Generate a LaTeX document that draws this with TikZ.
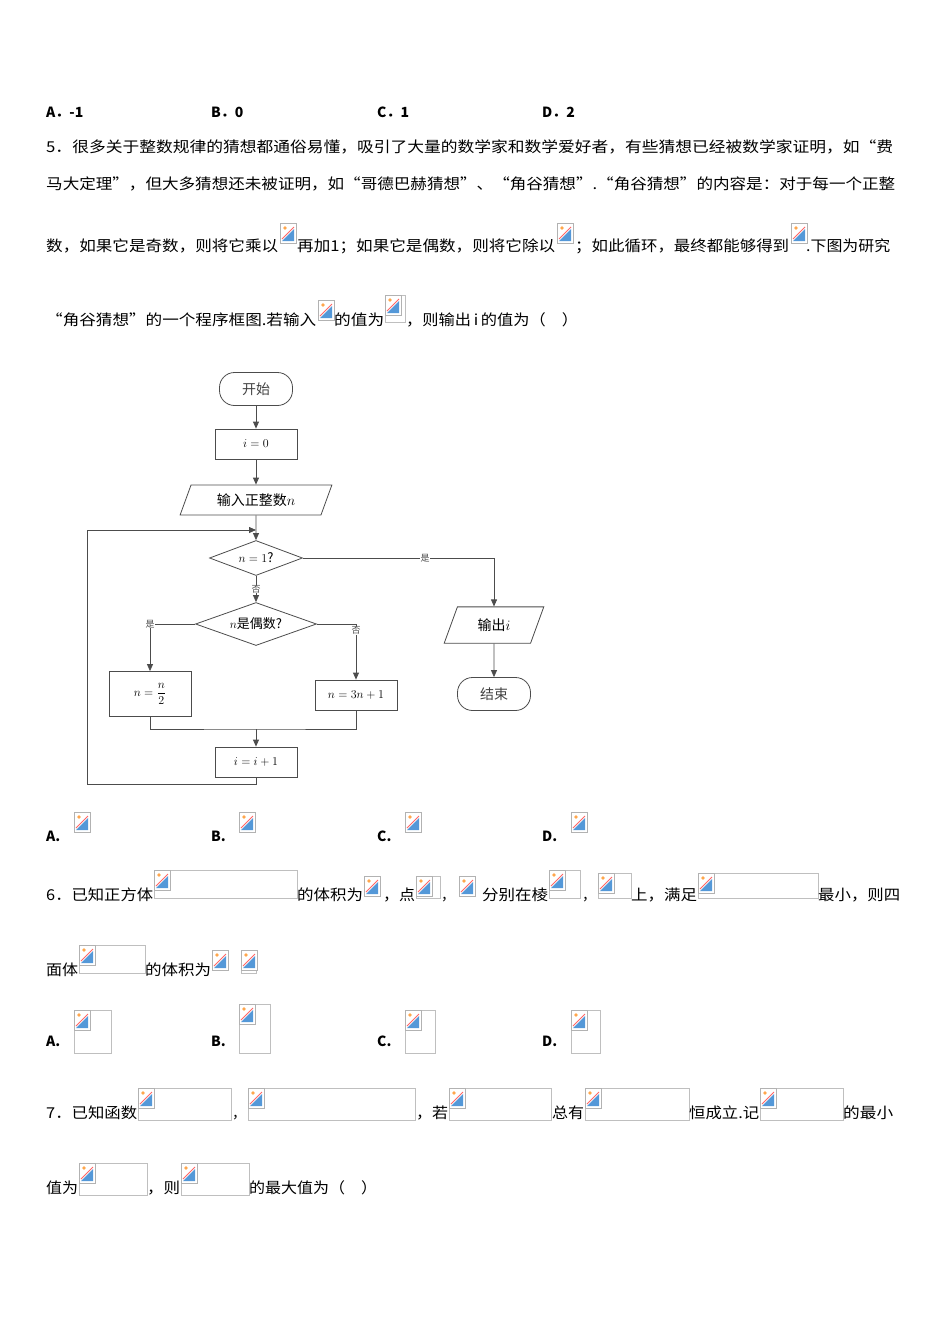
\documentclass[tikz,border=0pt]{standalone}
\usepackage{fontspec}
\setmainfont{Noto Sans CJK SC}
\newfontfamily\fc{Noto Sans CJK SC}
\usetikzlibrary{shapes.geometric,arrows.meta}
\newcommand\ico[2]{%
 \fill[white] (#1,#2) rectangle ++(16,20);
 \draw[gray!60,line width=0.6pt] (#1,#2) rectangle ++(16,20);
 \fill[cyan!60!blue!70] (#1+2,#2+18)--(#1+14,#2+6)--(#1+14,#2+18)--cycle;
 \draw[red!60,line width=1pt] (#1+2,#2+16)--(#1+14,#2+4);
 \fill[orange!70] (#1+5,#2+5) circle (1.8);}
\newcommand\bx[4]{\draw[gray!50,line width=0.6pt] (#1,#2) rectangle (#3,#4);\ico{#1}{#2}}
\newcommand\sg[4]{\node[anchor=base west,inner sep=0pt] at (#1,#2) {\resizebox{#3pt}{\height}{\fontsize{15pt}{17pt}\selectfont #4}};}
\newcommand\tx[3]{\node[anchor=base west,inner sep=0pt] at (#1,#2) {\fontsize{14pt}{16pt}\selectfont #3};}
\begin{document}
\begin{tikzpicture}[x=1pt,y=-1pt,
 box/.style={draw=black!70,line width=0.8pt,minimum width=82pt,minimum height=30pt,font=\fontsize{13pt}{15pt}\selectfont},
 term/.style={draw=black!70,line width=0.8pt,rounded corners=15pt,minimum width=73pt,minimum height=33pt,font=\fc\fontsize{14pt}{16pt}\selectfont\color{black!75}},
 dec/.style={draw=black!70,line width=0.8pt,diamond,inner sep=0pt,font=\fontsize{13pt}{15pt}\selectfont},
 io/.style={draw=black!70,line width=0.8pt,trapezium,trapezium left angle=70,trapezium right angle=110,minimum height=30pt,font=\fontsize{14pt}{16pt}\selectfont},
 ln/.style={black!70,line width=0.8pt},
 ar/.style={ln,-{Triangle[length=7pt,width=6pt]}},
 lb/.style={font=\fc\fontsize{9pt}{10pt}\selectfont,fill=white,inner sep=0.5pt,text=black!70}]
\useasboundingbox (0,0) rectangle (950,1344);
% line A-D
\tx{46}{117}{\bfseries A．-1}\tx{211}{117}{\bfseries B．0}\tx{377}{117}{\bfseries C．1}\tx{542}{117}{\bfseries D．2}
\sg{46}{152}{847}{5．很多关于整数规律的猜想都通俗易懂，吸引了大量的数学家和数学爱好者，有些猜想已经被数学家证明，如“费}
\sg{46}{189}{849}{马大定理”，但大多猜想还未被证明，如“哥德巴赫猜想”、“角谷猜想”.“角谷猜想”的内容是：对于每一个正整}
\sg{46}{251}{232}{数，如果它是奇数，则将它乘以}\ico{280}{223}
\sg{297}{251}{258}{再加1；如果它是偶数，则将它除以}\ico{557}{223}
\sg{575}{251}{214}{；如此循环，最终都能够得到}\ico{791}{223}
\sg{806}{251}{84}{.下图为研究}
\sg{46}{325}{270}{“角谷猜想”的一个程序框图.若输入}\ico{318}{300}
\sg{334}{325}{50}{的值为}\bx{385}{295}{405}{322}
\sg{406}{325}{172}{，则输出\,\textit{i}\,的值为（\quad ）}
% flowchart
\node[term] (st) at (256,389) {开始};
\node[box] (i0) at (256,444) {$i=0$};
\node[io,minimum width=120pt] (in) at (256,500) {输入正整数$n$};
\node[dec,minimum width=93pt,minimum height=35pt,shape aspect=2.66] (d1) at (256,558) {$n=1$?};
\node[dec,minimum width=121pt,minimum height=43pt,shape aspect=2.8] (d2) at (256,624) {$n$是偶数?};
\node[box,minimum height=45pt] (b1) at (150,694) {$n=\displaystyle\frac{n}{2}$};
\node[box] (b2) at (356,695) {$n=3n+1$};
\node[box] (b3) at (256,762) {$i=i+1$};
\node[io,minimum width=100pt] (out) at (494,625) {输出$i$};
\node[term] (en) at (494,694) {结束};
\coordinate (m) at (256,729);
\coordinate (lp) at (256,530);
\draw[ar] (st)--(i0);
\draw[ar] (i0)--(in);
\draw[ar] (in)--(d1);
\draw[ar] (d1)--node[lb]{否}(d2);
\draw[ar] (d2.west)-|node[lb,pos=0.5]{是}(b1);
\draw[ar] (d2.east)-|node[lb,pos=0.56]{否}(b2);
\draw[ln] (b1.south)|-(m)-|(b2.south);
\draw[ar] (m)--(b3);
\draw[ar] (b3.south)--++(0,7)-|(87,530)--(lp);
\draw[ar] (d1.east)-|node[lb,pos=0.32]{是}(out);
\draw[ar] (out)--(en);
% options
\tx{46}{841}{\bfseries A.}\ico{74}{812}
\tx{211}{841}{\bfseries B.}\ico{239}{812}
\tx{377}{841}{\bfseries C.}\ico{405}{812}
\tx{542}{841}{\bfseries D.}\ico{571}{812}
% Q6
\sg{46}{900}{107}{6．已知正方体}\bx{154}{870}{297}{898}
\sg{297}{900}{66}{的体积为}\ico{364}{876}
\sg{383}{900}{32}{，点}\bx{416}{876}{440}{898}
\tx{441}{900}{，}\ico{459}{876}
\sg{482}{900}{66}{分别在棱}\bx{549}{870}{580}{898}
\tx{582}{900}{，}\bx{598}{873}{631}{898}
\sg{631}{900}{66}{上，满足}\bx{698}{873}{818}{898}
\sg{818}{900}{82}{最小，则四}
\sg{46}{975}{32}{面体}\bx{79}{945}{145}{973}
\sg{145}{975}{66}{的体积为}\ico{212}{950}\bx{241}{950}{256}{973}
\tx{46}{1046}{\bfseries A.}\bx{74}{1010}{111}{1053}
\tx{211}{1046}{\bfseries B.}\bx{239}{1004}{270}{1053}
\tx{377}{1046}{\bfseries C.}\bx{405}{1010}{435}{1053}
\tx{542}{1046}{\bfseries D.}\bx{571}{1010}{600}{1053}
% Q7
\sg{46}{1118}{91}{7．已知函数}\bx{138}{1088}{231}{1120}
\tx{232}{1118}{，}\bx{248}{1088}{415}{1120}
\sg{416}{1118}{32}{，若}\bx{449}{1088}{551}{1120}
\sg{552}{1118}{32}{总有}\bx{585}{1088}{689}{1120}
\sg{689}{1118}{70}{恒成立.记}\bx{760}{1088}{843}{1120}
\sg{843}{1118}{50}{的最小}
\sg{46}{1193}{32}{值为}\bx{79}{1163}{147}{1195}
\sg{147}{1193}{33}{，则}\bx{181}{1163}{249}{1195}
\sg{249}{1193}{128}{的最大值为（\quad ）}
\end{tikzpicture}
\end{document}
